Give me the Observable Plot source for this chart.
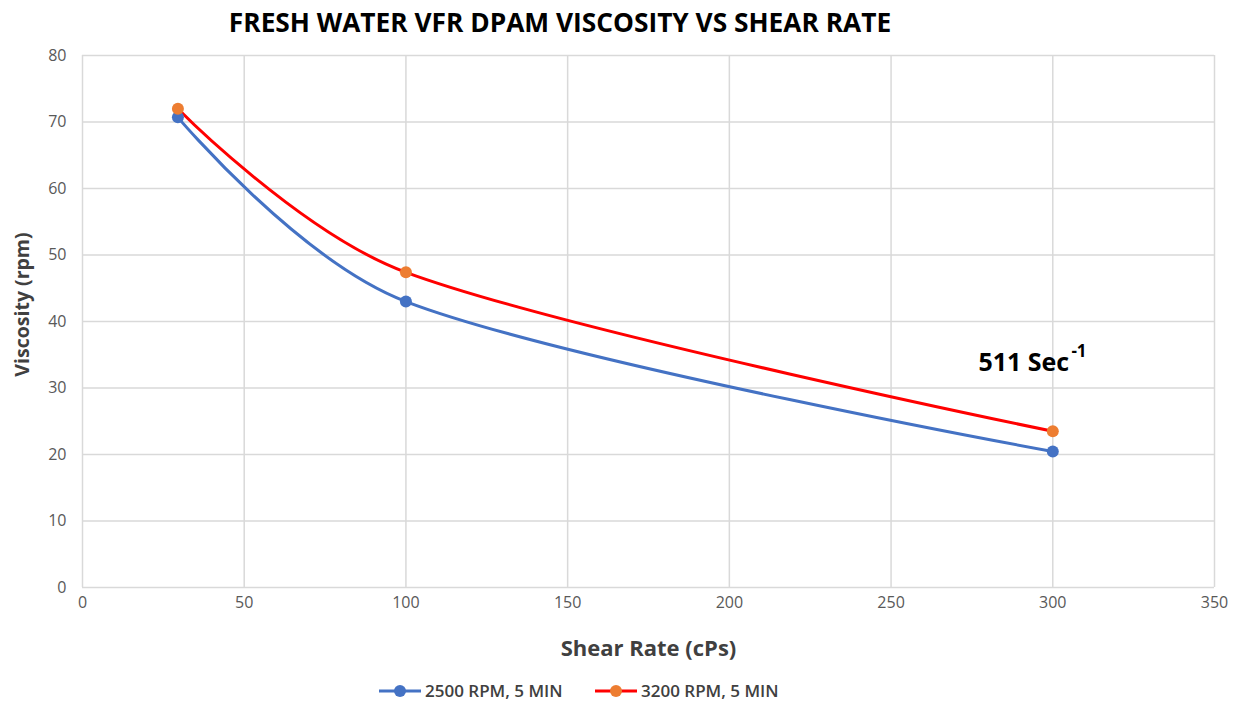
<!DOCTYPE html>
<html>
<head>
<meta charset="utf-8">
<script src="https://cdn.jsdelivr.net/npm/d3@7"></script>
<script src="https://cdn.jsdelivr.net/npm/@observablehq/plot@0.6"></script>
<style>
  body { margin: 0; background: #fff; font-family: "Open Sans", sans-serif; }
  #wrap { position: relative; width: 1241px; height: 702px; }
  #title { position: absolute; left: 0; width: 1120px; top: 5px; text-align: center; font-weight: 700; font-size: 26.3px; color: #000; line-height: 34px; }
  #chart { position: absolute; left: 0; top: 40px; }
  #legend { position: absolute; top: 679px; left: 0; width: 1241px; height: 24px; }
  .item { position: absolute; top: 0; display: flex; align-items: center; font-size: 17px; font-weight: 600; color: #404040; line-height: 24px; }
  .item svg { margin-right: 3px; }
</style>
</head>
<body>
<div id="wrap">
  <div id="title"></div>
  <div id="chart"></div>
  <div id="legend"></div>
</div>
<script>
const titleText = "FRESH WATER VFR DPAM VISCOSITY VS SHEAR RATE";
const xLabel = "Shear Rate (cPs)";
const yLabel = "Viscosity (rpm)";
const shearRates = [29.5, 100, 300];
const visc2500 = [70.7, 43.0, 20.45];
const visc3200 = [72.0, 47.4, 23.5];
const seriesNames = ["2500 RPM, 5 MIN", "3200 RPM, 5 MIN"];
const lineColors = ["#4472C4", "#FF0000"];
const dotColors = ["#4472C4", "#ED7D31"];
const xTicks = [0, 50, 100, 150, 200, 250, 300, 350];
const yTicks = [0, 10, 20, 30, 40, 50, 60, 70, 80];
const annotation = { x: 277, y: 33.8, text: "511 Sec", sup: "-1" };

document.getElementById("title").textContent = titleText;

const data = [];
[visc2500, visc3200].forEach((vals, i) => {
  vals.forEach((v, j) => data.push({ series: seriesNames[i], x: shearRates[j], y: v }));
});

// Spreadsheet-style smoothed line: Bezier segments, tangent along neighbour chord,
// arm lengths from centripetal weighting, end controls at the end points.
function smoothCurve(context) {
  let pts;
  return {
    areaStart() {}, areaEnd() {},
    lineStart() { pts = []; },
    point(x, y) { pts.push([+x, +y]); },
    lineEnd() {
      const n = pts.length;
      if (!n) return;
      context.moveTo(pts[0][0], pts[0][1]);
      if (n === 1) return;
      const left = new Array(n), right = new Array(n);
      for (let i = 1; i < n - 1; i++) {
        const p0 = pts[i - 1], p1 = pts[i], p2 = pts[i + 1];
        const l0 = Math.hypot(p1[0] - p0[0], p1[1] - p0[1]);
        const l1 = Math.hypot(p2[0] - p1[0], p2[1] - p1[1]);
        const vx = (p1[0] - p0[0]) * l1 + (p2[0] - p1[0]) * l0;
        const vy = (p1[1] - p0[1]) * l1 + (p2[1] - p1[1]) * l0;
        const vl = Math.hypot(vx, vy);
        const s0 = Math.sqrt(l0), s1 = Math.sqrt(l1);
        const armR = vl / (3 * s0 * (s0 + s1));
        const armL = vl / (3 * s1 * (s0 + s1));
        let dx = p2[0] - p0[0], dy = p2[1] - p0[1];
        const dl = Math.hypot(dx, dy) || 1;
        dx /= dl; dy /= dl;
        left[i] = [p1[0] - dx * armL, p1[1] - dy * armL];
        right[i] = [p1[0] + dx * armR, p1[1] + dy * armR];
      }
      for (let i = 0; i < n - 1; i++) {
        const c1 = i === 0 ? pts[0] : right[i];
        const c2 = i + 1 === n - 1 ? pts[n - 1] : left[i + 1];
        context.bezierCurveTo(c1[0], c1[1], c2[0], c2[1], pts[i + 1][0], pts[i + 1][1]);
      }
    }
  };
}

const fontFam = "Open Sans, sans-serif";
const chart = Plot.plot({
  width: 1241,
  height: 625,
  marginTop: 15,
  marginLeft: 82,
  marginRight: 27,
  marginBottom: 78,
  style: { fontFamily: fontFam, background: "transparent" },
  x: { domain: [0, 350], ticks: xTicks },
  y: { domain: [0, 80], ticks: yTicks },
  marks: [
    Plot.gridX(xTicks, { stroke: "#d9d9d9", strokeOpacity: 1, strokeWidth: 1.5 }),
    Plot.gridY(yTicks, { stroke: "#d9d9d9", strokeOpacity: 1, strokeWidth: 1.5 }),
    Plot.axisX(xTicks, { tickSize: 0, tickPadding: 9, fontSize: 16, color: "#595959", label: null }),
    Plot.axisY(yTicks, { tickSize: 0, tickPadding: 16, fontSize: 16, color: "#595959", label: null }),
    Plot.text([xLabel], { frameAnchor: "bottom", dy: 61, lineAnchor: "middle", fontSize: 22, fontWeight: 700, fill: "#404040" }),
    Plot.text([yLabel], { frameAnchor: "left", dx: -60, dy: -17, rotate: -90, textAnchor: "middle", lineAnchor: "middle", fontSize: 19.5, fontWeight: 700, fill: "#404040" }),
    ...seriesNames.map((s, i) => Plot.line(data.filter(d => d.series === s), { x: "x", y: "y", stroke: lineColors[i], strokeWidth: 3, curve: smoothCurve })),
    ...seriesNames.map((s, i) => Plot.dot(data.filter(d => d.series === s), { x: "x", y: "y", fill: dotColors[i], r: 6, stroke: "none" })),
    Plot.text([annotation], { x: "x", y: "y", text: "text", textAnchor: "start", lineAnchor: "middle", fontSize: 25, fontWeight: 700, fill: "#000" }),
    Plot.text([annotation], { x: "x", y: "y", text: "sup", textAnchor: "start", lineAnchor: "middle", dx: 93, dy: -11, fontSize: 17, fontWeight: 700, fill: "#000" })
  ]
});
document.getElementById("chart").appendChild(chart);

const legend = document.getElementById("legend");
const legendLeft = [378, 594];
seriesNames.forEach((s, i) => {
  const div = document.createElement("div");
  div.className = "item";
  div.style.left = legendLeft[i] + "px";
  div.innerHTML = `<svg width="44" height="24"><line x1="1" x2="43" y1="12" y2="12" stroke="${lineColors[i]}" stroke-width="3"/><circle cx="22" cy="12" r="6" fill="${dotColors[i]}"/></svg><span>${s}</span>`;
  legend.appendChild(div);
});
</script>
</body>
</html>
